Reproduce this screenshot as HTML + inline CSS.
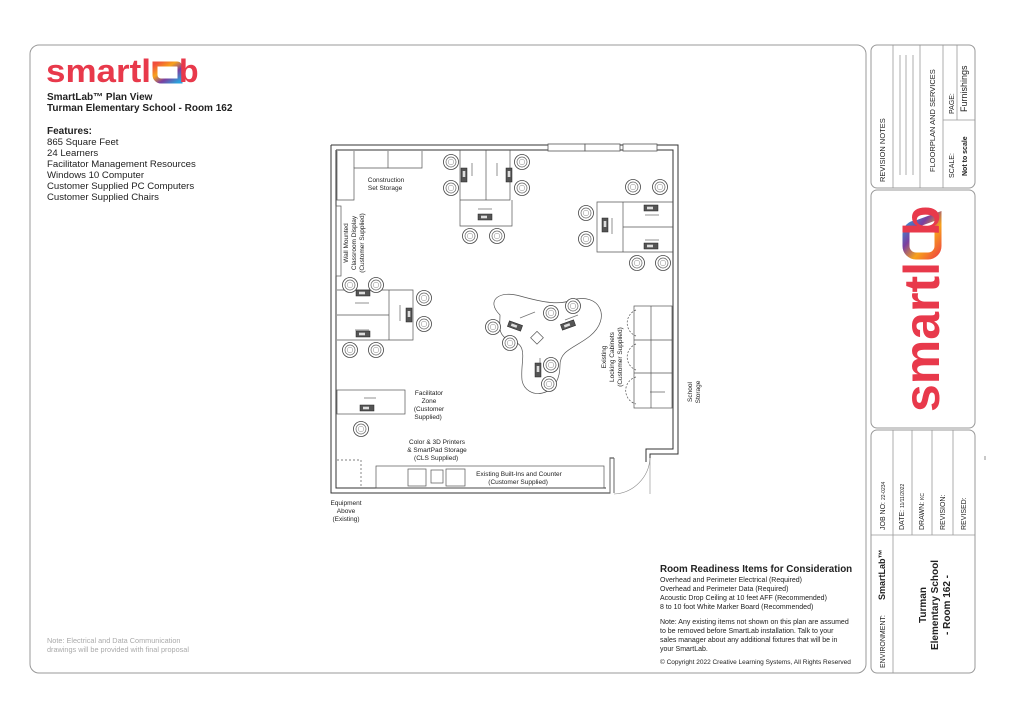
<!DOCTYPE html>
<html><head><meta charset="utf-8"><style>
html,body{margin:0;padding:0;background:#fff}
svg{display:block}
text{font-family:"Liberation Sans",Arial,sans-serif;fill:#222}
</style></head><body>
<svg width="1024" height="723" viewBox="0 0 1024 723" xmlns="http://www.w3.org/2000/svg">
<defs>
<linearGradient id="lg" x1="0" y1="0" x2="1" y2="1">
<stop offset="0" stop-color="#f04e3e"/><stop offset="0.35" stop-color="#f7a21b"/><stop offset="0.65" stop-color="#7b3fa0"/><stop offset="1" stop-color="#2aa3dc"/>
</linearGradient>
<g id="ch"><circle r="7.5" fill="#fff" stroke="#444" stroke-width="0.8"/><circle r="5" fill="none" stroke="#666" stroke-width="0.7"/><circle r="2.8" fill="none" stroke="#888" stroke-width="0.5"/></g>
<g id="pc"><rect x="-7" y="-3" width="14" height="6" fill="#555" stroke="#222" stroke-width="0.5"/><rect x="-4" y="-1.3" width="6" height="2.6" fill="#ddd"/></g>
</defs>

<rect x="30" y="45" width="836" height="628" rx="9" fill="none" stroke="#999" stroke-width="1"/>
<rect x="871" y="45" width="104" height="143" rx="6" fill="none" stroke="#999" stroke-width="1"/>
<rect x="871" y="190" width="104" height="238" rx="6" fill="none" stroke="#999" stroke-width="1"/>
<rect x="871" y="430" width="104" height="243" rx="6" fill="none" stroke="#999" stroke-width="1"/>

<!-- left logo -->
<text x="46" y="82" font-size="32" font-weight="bold" textLength="105" lengthAdjust="spacingAndGlyphs" style="fill:#e8394b">smartl</text>
<path d="M155 64 h22 a3 3 0 0 1 3 3 v14 h-19 a6 6 0 0 1 -6 -6 z" fill="none" stroke="url(#lg)" stroke-width="5"/>
<text x="179" y="82" font-size="32" font-weight="bold" style="fill:#e8394b">b</text>
<text x="47" y="100" font-size="10" font-weight="bold">SmartLab™ Plan View</text>
<text x="47" y="111" font-size="10" font-weight="bold">Turman Elementary School - Room 162</text>
<text x="47" y="134" font-size="10" font-weight="bold">Features:</text>
<text font-size="9.6"><tspan x="47" y="145">865 Square Feet</tspan><tspan x="47" y="156">24 Learners</tspan><tspan x="47" y="167">Facilitator Management Resources</tspan><tspan x="47" y="178">Windows 10 Computer</tspan><tspan x="47" y="189">Customer Supplied PC Computers</tspan><tspan x="47" y="200">Customer Supplied Chairs</tspan></text>
<text font-size="7.3" style="fill:#aaa"><tspan x="47" y="643">Note: Electrical and Data Communication</tspan><tspan x="47" y="652">drawings will be provided with final proposal</tspan></text>

<text x="660" y="572" font-size="9.8" font-weight="bold">Room Readiness Items for Consideration</text>
<text font-size="7"><tspan x="660" y="582">Overhead and Perimeter Electrical (Required)</tspan><tspan x="660" y="591">Overhead and Perimeter Data (Required)</tspan><tspan x="660" y="600">Acoustic Drop Ceiling at 10 feet AFF (Recommended)</tspan><tspan x="660" y="609">8 to 10 foot White Marker Board (Recommended)</tspan>
<tspan x="660" y="624">Note: Any existing items not shown on this plan are assumed</tspan><tspan x="660" y="633">to be removed before SmartLab installation. Talk to your</tspan><tspan x="660" y="642">sales manager about any additional fixtures that will be in</tspan><tspan x="660" y="651">your SmartLab.</tspan></text>
<text x="660" y="664" font-size="6.5">© Copyright 2022 Creative Learning Systems, All Rights Reserved</text>

<g fill="none" stroke="#333" stroke-width="1">
<path d="M331 145 H678 V454 H650 V458 M331 145 V493 H610 V458 H614"/>
<path d="M336 150 H673 V449 H646 V462 M336 150 V488 H606"/>
<path d="M610 458 V493 M614 458 V493" stroke="#666"/>
<path d="M650 458 A38 38 0 0 1 614 494" stroke="#888" stroke-width="0.6"/>
<line x1="650" y1="458" x2="650" y2="494" stroke="#888" stroke-width="0.6"/>
</g>
<g fill="#fff" stroke="#555" stroke-width="0.8">
<rect x="548" y="144" width="37" height="7"/><rect x="585" y="144" width="35" height="7"/><rect x="623" y="144" width="34" height="7"/>
</g>
<g fill="none" stroke="#555" stroke-width="0.7">
<path d="M337 151 V200 H354 V168 H422 V151"/><line x1="354" y1="151" x2="354" y2="168"/><line x1="388" y1="151" x2="388" y2="168"/>
<rect x="336" y="206" width="5" height="70"/>
<path d="M337 460 H361 V488" stroke-dasharray="2 2"/>
<rect x="376" y="466" width="228" height="22"/>
<rect x="408" y="469" width="18" height="17"/><rect x="431" y="470" width="12" height="13"/><rect x="446" y="469" width="19" height="17"/>
<rect x="337" y="390" width="68" height="24"/>
<rect x="634" y="306" width="38" height="102"/><line x1="651" y1="306" x2="651" y2="408"/><line x1="634" y1="340" x2="672" y2="340"/><line x1="634" y1="373" x2="672" y2="373"/>
<path d="M636 310 A14 14 0 0 0 636 336 M636 344 A14 14 0 0 0 636 370 M636 377 A14 14 0 0 0 636 404" stroke-dasharray="2 1.5"/>
<line x1="650" y1="392" x2="665" y2="392"/>
<path d="M460 150 V200 H510 V150 M486 150 V200 M460 200 V226 H512 V200"/>
<path d="M673 202 H623 V252 H673 M623 227 H673 M623 202 H597 V252 H623"/>
<path d="M337 290 H389 V340 H337 M337 315 H389 M389 290 H413 V340 H389"/>
<path d="M500 315 C485 300,500 290,520 296 C545 303,560 305,572 300 C600 292,612 318,590 336 C575 348,560 350,560 365 C560 400,525 400,522 380 C520 360,530 345,510 340 C497 336,500 325,500 315 Z"/>
<rect x="533" y="333" width="9" height="9" transform="rotate(45 537 337)"/>
</g>
<g stroke="#777" stroke-width="0.8" fill="none">
<line x1="472" y1="176" x2="472" y2="163"/><line x1="497" y1="176" x2="497" y2="163"/><line x1="478" y1="209" x2="492" y2="209"/>
<line x1="645" y1="215" x2="659" y2="215"/><line x1="645" y1="240" x2="659" y2="240"/><line x1="612" y1="218" x2="612" y2="234"/>
<line x1="355" y1="303" x2="369" y2="303"/><line x1="355" y1="330" x2="369" y2="330"/><line x1="400" y1="305" x2="400" y2="321"/>
<line x1="364" y1="398" x2="376" y2="398"/>
<line x1="520" y1="318" x2="535" y2="312"/><line x1="565" y1="320" x2="578" y2="315"/><line x1="540" y1="358" x2="540" y2="372"/>
</g>
<use href="#pc" transform="translate(464 175) rotate(90)"/><use href="#pc" transform="translate(509 175) rotate(90)"/><use href="#pc" transform="translate(485 217)"/>
<use href="#pc" transform="translate(651 208)"/><use href="#pc" transform="translate(651 246)"/><use href="#pc" transform="translate(605 225) rotate(90)"/>
<use href="#pc" transform="translate(363 293)"/><use href="#pc" transform="translate(363 334)"/><use href="#pc" transform="translate(409 315) rotate(90)"/>
<use href="#pc" transform="translate(367 408)"/>
<use href="#pc" transform="translate(515 326) rotate(20)"/><use href="#pc" transform="translate(568 325) rotate(-20)"/><use href="#pc" transform="translate(538 370) rotate(90)"/>
<g>
<use href="#ch" x="451" y="162"/><use href="#ch" x="451" y="188"/><use href="#ch" x="522" y="162"/><use href="#ch" x="522" y="188"/><use href="#ch" x="470" y="236"/><use href="#ch" x="497" y="236"/>
<use href="#ch" x="633" y="187"/><use href="#ch" x="660" y="187"/><use href="#ch" x="586" y="213"/><use href="#ch" x="586" y="239"/><use href="#ch" x="637" y="263"/><use href="#ch" x="663" y="263"/>
<use href="#ch" x="350" y="285"/><use href="#ch" x="376" y="285"/><use href="#ch" x="424" y="298"/><use href="#ch" x="424" y="324"/><use href="#ch" x="350" y="350"/><use href="#ch" x="376" y="350"/>
<use href="#ch" x="361" y="429"/>
<use href="#ch" x="493" y="327"/><use href="#ch" x="510" y="343"/><use href="#ch" x="551" y="313"/><use href="#ch" x="573" y="306"/><use href="#ch" x="551" y="365"/><use href="#ch" x="549" y="384"/>
</g>
<text font-size="6.5" text-anchor="middle"><tspan x="386" y="182">Construction</tspan><tspan x="386" y="190">Set Storage</tspan>
<tspan x="429" y="395">Facilitator</tspan><tspan x="429" y="403">Zone</tspan><tspan x="429" y="411">(Customer</tspan><tspan x="429" y="419">Supplied)</tspan>
<tspan x="437" y="444">Color &amp; 3D Printers</tspan><tspan x="437" y="452">&amp; SmartPad Storage</tspan><tspan x="437" y="460">(CLS Supplied)</tspan>
<tspan x="519" y="476">Existing Built-Ins and Counter</tspan><tspan x="519" y="484">(Customer Supplied)</tspan>
<tspan x="346" y="505">Equipment</tspan><tspan x="346" y="513">Above</tspan><tspan x="346" y="521">(Existing)</tspan></text>
<text font-size="6.5" text-anchor="middle" transform="translate(348 243) rotate(-90)"><tspan x="0" y="0">Wall Mounted</tspan><tspan x="0" y="8">Classroom Display</tspan><tspan x="0" y="16">(Customer Supplied)</tspan></text>
<text font-size="6.5" text-anchor="middle" transform="translate(606 357) rotate(-90)"><tspan x="0" y="0">Existing</tspan><tspan x="0" y="8">Locking Cabinets</tspan><tspan x="0" y="16">(Customer Supplied)</tspan></text>
<text font-size="6.5" text-anchor="middle" transform="translate(692 392) rotate(-90)"><tspan x="0" y="0">School</tspan><tspan x="0" y="8">Storage</tspan></text>

<g stroke="#999" stroke-width="0.8" fill="none">
<line x1="893" y1="45" x2="893" y2="188"/><line x1="920" y1="45" x2="920" y2="188"/><line x1="943" y1="45" x2="943" y2="188"/>
<line x1="900" y1="55" x2="900" y2="175"/><line x1="906" y1="55" x2="906" y2="175"/><line x1="913" y1="55" x2="913" y2="175"/>
<line x1="943" y1="120" x2="975" y2="120"/><line x1="957" y1="45" x2="957" y2="120"/>
</g>
<text font-size="7.5" transform="translate(885 182) rotate(-90)">REVISION NOTES</text>
<text font-size="7.5" transform="translate(935 172) rotate(-90)">FLOORPLAN AND SERVICES</text>
<text font-size="7" transform="translate(954 178) rotate(-90)">SCALE:</text>
<text font-size="7" font-weight="bold" transform="translate(967 176) rotate(-90)">Not to scale</text>
<text font-size="7" transform="translate(954 114) rotate(-90)">PAGE:</text>
<text font-size="9" transform="translate(967 112) rotate(-90)">Furnishings</text>

<!-- big logo rotated -->
<text font-size="50" font-weight="bold" textLength="150" lengthAdjust="spacingAndGlyphs" style="fill:#e8394b" transform="translate(939 412) rotate(-90)">smartl</text>
<path d="M906 256 v-30 a10 10 0 0 1 10 -10 h12 a10 10 0 0 1 10 10 v12 a10 10 0 0 1 -10 10 z" transform="rotate(180 922 236)" fill="none" stroke="url(#lg)" stroke-width="7"/>
<text font-size="50" font-weight="bold" style="fill:#e8394b" transform="translate(939 236) rotate(-90)">b</text>

<g stroke="#999" stroke-width="0.8" fill="none">
<line x1="893" y1="430" x2="893" y2="673"/><line x1="871" y1="535" x2="893" y2="535"/>
<line x1="893" y1="535" x2="975" y2="535"/>
<line x1="912" y1="430" x2="912" y2="535"/><line x1="932" y1="430" x2="932" y2="535"/><line x1="953" y1="430" x2="953" y2="535"/>
</g>
<text font-size="7" transform="translate(885 530) rotate(-90)">JOB NO: <tspan font-size="5">22-0234</tspan></text>
<text font-size="7" transform="translate(904 530) rotate(-90)">DATE: <tspan font-size="5">11/11/2022</tspan></text>
<text font-size="7" transform="translate(924 530) rotate(-90)">DRAWN: <tspan font-size="5">KC</tspan></text>
<text font-size="7" transform="translate(945 530) rotate(-90)">REVISION:</text>
<text font-size="7" transform="translate(966 530) rotate(-90)">REVISED:</text>
<text font-size="7" transform="translate(885 668) rotate(-90)">ENVIRONMENT:</text>
<text font-size="9" font-weight="bold" transform="translate(885 600) rotate(-90)">SmartLab™</text>
<text font-size="10" font-weight="bold" text-anchor="middle" transform="translate(934 605) rotate(-90)"><tspan x="0" y="-8">Turman</tspan><tspan x="0" y="4">Elementary School</tspan><tspan x="0" y="16">- Room 162 -</tspan></text>
<line x1="985" y1="456" x2="985" y2="460" stroke="#777" stroke-width="0.8"/>
</svg>
</body></html>
